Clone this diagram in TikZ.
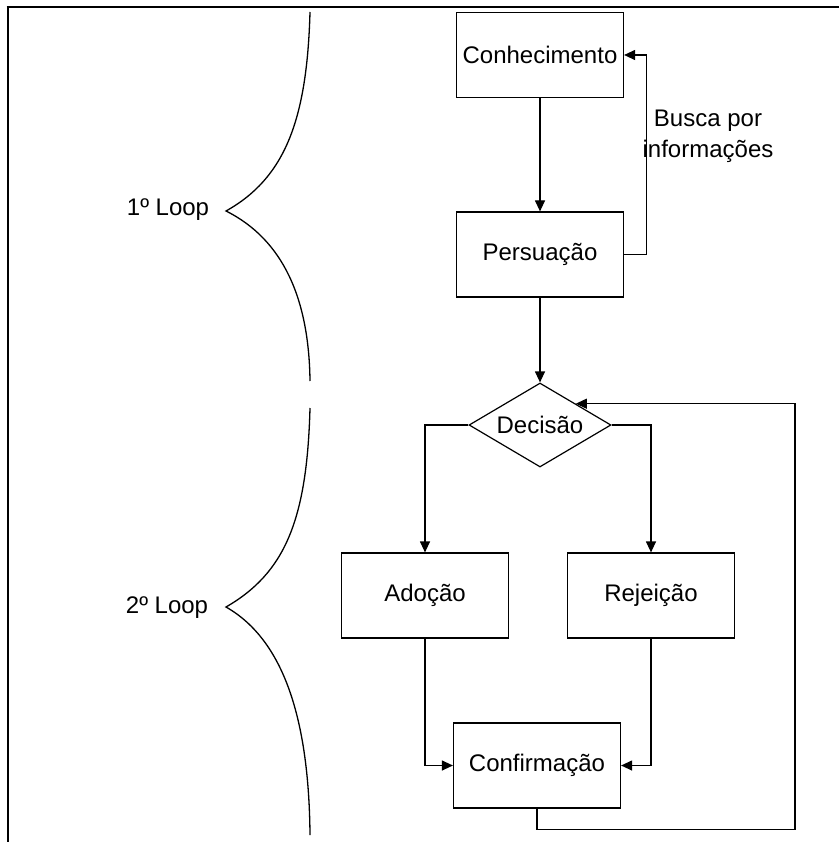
\documentclass[tikz,border=0pt]{standalone}
\usepackage{fontspec}
\setmainfont{Liberation Sans}
\usetikzlibrary{arrows.meta,shapes.geometric}
\begin{document}
\begin{tikzpicture}[x=1pt,y=-1pt,
  every node/.style={font=\fontsize{24}{31}\selectfont},
  stage/.style={draw,line width=1.2pt,minimum width=167pt,minimum height=85pt,inner sep=0pt},
  choice/.style={draw,line width=1.2pt,diamond,aspect=1.7,minimum width=142pt,minimum height=84pt,inner sep=0pt},
  arr/.style={line width=1.2pt,-{Triangle[length=11pt,width=10pt]}},
  brace/.style={line width=1.3pt}]
\useasboundingbox (0,0) rectangle (839,842);
% frame
\draw[line width=2.6pt] (6.5,7) -- (839,7);
\draw[line width=2pt] (7.5,7) -- (7.5,842);

% stages
\node[stage] (con) at (540,55) {Conhecimento};
\node[stage] (per) at (540,254.5) {Persuação};
\node[choice] (dec) at (540,425) {Decisão};
\node[stage] (ado) at (425,595.5) {Adoção};
\node[stage] (rej) at (651,595.5) {Rejeição};
\node[stage] (cnf) at (537,765.5) {Confirmação};

% labels
\node[align=center] (busca) at (708,136) {Busca por\\informações};
\node (l1) at (168,210) {1º Loop};
\node (l2) at (167,608) {2º Loop};

% connectors
\draw[arr] (con.south) -- (per.north);
\draw[arr] (per.east) -- ++(22,0) |- (con.east);
\draw[arr] (per.south) -- (dec.north);
\draw[arr] (dec.west) -| (ado.north);
\draw[arr] (dec.east) -| (rej.north);
\draw[arr] (ado.south) |- (cnf.west);
\draw[arr] (rej.south) |- (cnf.east);
\coordinate (ret) at (795,0);
\draw[arr] (cnf.south) -- ++(0,21) -| (ret |- dec.north east) -- (dec.north east);

% braces
\draw[brace] (310,12) .. controls (307,120) and (285,178) .. (226,211)
  .. controls (284,240) and (309,300) .. (310,381);
\draw[brace] (310,408) .. controls (307,520) and (285,573) .. (226,607)
  .. controls (284,640) and (309,720) .. (310,835);
\end{tikzpicture}
\end{document}
